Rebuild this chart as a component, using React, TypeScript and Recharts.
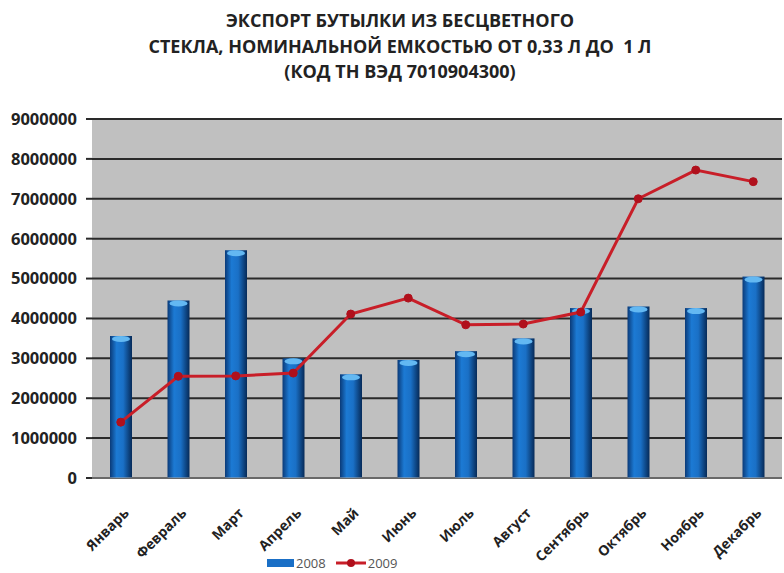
import React from 'react';
import {
  ComposedChart,
  Bar,
  Line,
  XAxis,
  YAxis,
  CartesianGrid,
} from 'recharts';

const months = [
  'Январь',
  'Февраль',
  'Март',
  'Апрель',
  'Май',
  'Июнь',
  'Июль',
  'Август',
  'Сентябрь',
  'Октябрь',
  'Ноябрь',
  'Декабрь',
];

const exports2008 = [
  3560000, 4450000, 5710000, 3000000, 2600000, 2960000, 3180000, 3500000,
  4260000, 4300000, 4260000, 5050000,
];

const exports2009 = [
  1400000, 2550000, 2560000, 2630000, 4110000, 4510000, 3840000, 3860000,
  4160000, 7000000, 7720000, 7430000,
];

const yTicks = [
  0, 1000000, 2000000, 3000000, 4000000, 5000000, 6000000, 7000000, 8000000,
  9000000,
];

const titleLines = [
  'ЭКСПОРТ БУТЫЛКИ ИЗ БЕСЦВЕТНОГО',
  'СТЕКЛА, НОМИНАЛЬНОЙ ЕМКОСТЬЮ ОТ 0,33 Л ДО  1 Л',
  '(КОД ТН ВЭД 7010904300)',
];

const data = months.map((name, i) => ({
  name,
  y2008: exports2008[i],
  y2009: exports2009[i],
}));

const FONT = '"Open Sans", "DejaVu Sans", sans-serif';

function CylinderBar(props: any) {
  const { x, y, width, height } = props;
  if (height <= 0) return null;
  return (
    <g>
      <rect x={x} y={y} width={width} height={height} fill="url(#barGrad)" />
      <ellipse
        cx={x + width / 2}
        cy={y + 3}
        rx={width / 2 - 2}
        ry={3}
        fill="#63b8f2"
      />
    </g>
  );
}

function MonthTick(props: any) {
  const { x, y, payload } = props;
  return (
    <g transform={`translate(${x + 9}, ${y + 28})`}>
      <text
        x={0}
        y={0}
        textAnchor="end"
        transform="rotate(-45)"
        fontFamily={FONT}
        fontWeight="bold"
        fontSize={14}
        fill="#222"
      >
        {payload.value}
      </text>
    </g>
  );
}

export default function App() {
  return (
    <div
      style={{
        position: 'absolute',
        left: 0,
        top: 0,
        width: 784,
        height: 573,
        background: '#fff',
        fontFamily: FONT,
        overflow: 'hidden',
      }}
    >
      <div
        style={{
          position: 'absolute',
          left: 0,
          top: 8,
          width: 800,
          textAlign: 'center',
          fontWeight: 'bold',
          fontSize: 18,
          lineHeight: '25.5px',
          color: '#222',
          whiteSpace: 'pre',
        }}
      >
        {titleLines.map((t) => (
          <div key={t}>{t}</div>
        ))}
      </div>
      <ComposedChart
        width={784}
        height={573}
        data={data}
        margin={{ top: 119, right: 2, bottom: 0, left: 0 }}
      >
        <defs>
          <linearGradient id="barGrad" x1="0" y1="0" x2="1" y2="0">
            <stop offset="0%" stopColor="#0a3a78" />
            <stop offset="30%" stopColor="#1c7ad4" />
            <stop offset="60%" stopColor="#1a70c6" />
            <stop offset="100%" stopColor="#062a58" />
          </linearGradient>
        </defs>
        <CartesianGrid
          vertical={false}
          fill="#c0c0c0"
          stroke="#2a2a2a"
          strokeWidth={2}
        />
        <XAxis
          dataKey="name"
          interval={0}
          tickLine={false}
          axisLine={{ stroke: '#a8a8a8' }}
          tick={<MonthTick />}
          height={95}
        />
        <YAxis
          width={92}
          domain={[0, 9000000]}
          ticks={yTicks}
          interval={0}
          axisLine={false}
          tickLine={{ stroke: '#2a2a2a', strokeWidth: 2 }}
          tickSize={6}
          tickMargin={9}
          tick={{
            fontFamily: FONT,
            fontWeight: 'bold',
            fontSize: 16.5,
            fill: '#222',
          }}
        />
        <Bar
          dataKey="y2008"
          barSize={22}
          fill="#1a6fc6"
          shape={<CylinderBar />}
          isAnimationActive={false}
        />
        <Line
          dataKey="y2009"
          type="linear"
          stroke="#c81e28"
          strokeWidth={3}
          dot={{ r: 4, fill: '#b0101c', stroke: '#b0101c', strokeWidth: 1 }}
          isAnimationActive={false}
        />
      </ComposedChart>
      <div
        style={{
          position: 'absolute',
          left: 267,
          top: 555,
          display: 'flex',
          alignItems: 'center',
          fontSize: 13,
          color: '#555',
          lineHeight: '16px',
        }}
      >
        <span
          style={{
            display: 'inline-block',
            width: 27,
            height: 8,
            background: '#1a6fc6',
            marginRight: 2,
          }}
        />
        <span>2008</span>
        <svg width={30} height={12} style={{ marginLeft: 10, marginRight: 2 }}>
          <line x1={0} y1={6} x2={30} y2={6} stroke="#c81e28" strokeWidth={3} />
          <circle cx={15} cy={6} r={4} fill="#b0101c" />
        </svg>
        <span>2009</span>
      </div>
    </div>
  );
}
